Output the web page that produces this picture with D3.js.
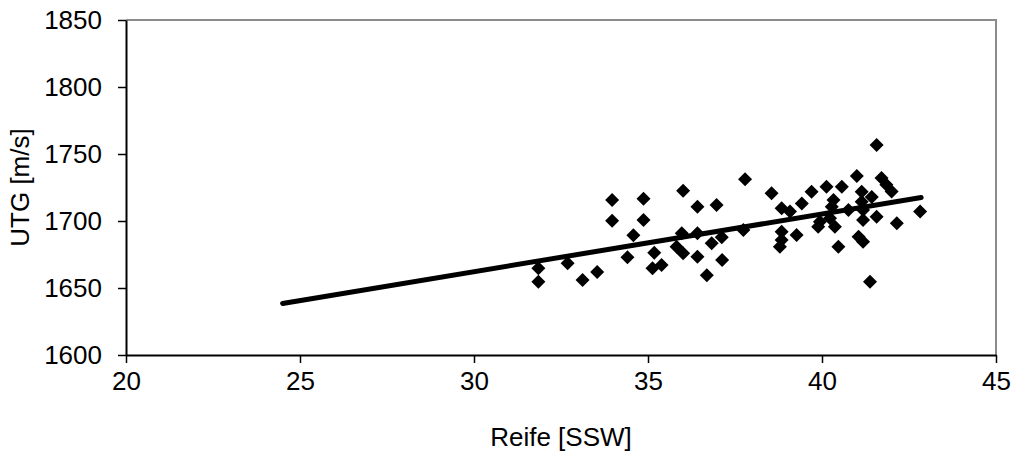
<!DOCTYPE html>
<html>
<head>
<meta charset="utf-8">
<script src="https://cdn.jsdelivr.net/npm/d3@7"></script>
<style>
	body { margin: 0; background: #fff; }
	text { font-family: "Liberation Sans", Arial, sans-serif; fill: #000; }
</style>
</head>
<body>
<svg id="chart" width="1012" height="452"></svg>
<script>
// scatter data: Reife [SSW] vs UTG [m/s]
var reife = [31.85, 31.85, 32.69, 33.12, 33.54, 33.97, 33.97, 34.41, 34.58, 34.87,
	34.87, 35.13, 35.18, 35.39, 35.82, 35.97, 36.01, 36.01, 36.42, 36.42,
	36.42, 36.69, 36.83, 36.97, 37.12, 37.13, 37.79, 37.74, 38.55, 38.79,
	38.84, 38.84, 38.84, 39.08, 39.27, 39.42, 39.70, 39.89, 39.94, 40.13,
	40.23, 40.28, 40.33, 40.37, 40.47, 40.57, 40.76, 41.00, 41.05, 41.14,
	41.14, 41.18, 41.18, 41.18, 41.38, 41.43, 41.57, 41.57, 41.71, 41.85,
	42.00, 42.15, 42.82];
var utg = [1664.7, 1654.7, 1668.4, 1656.0, 1662.0, 1715.7, 1700.2, 1672.9, 1689.3, 1716.6,
	1700.7, 1664.7, 1676.3, 1667.2, 1680.8, 1690.8, 1722.6, 1675.9, 1710.7, 1690.8,
	1673.4, 1659.5, 1683.4, 1711.9, 1687.8, 1670.9, 1731.1, 1693.3, 1720.7, 1680.8,
	1685.8, 1692.0, 1709.5, 1707.0, 1689.5, 1713.0, 1721.9, 1695.8, 1699.5, 1725.6,
	1702.0, 1710.7, 1715.7, 1695.8, 1680.8, 1725.6, 1708.2, 1733.6, 1688.3, 1721.9,
	1714.4, 1708.2, 1700.7, 1684.5, 1654.7, 1718.0, 1703.2, 1756.7, 1732.0, 1727.0,
	1722.0, 1698.3, 1707.0];

// linear trend line end points
var trendX = [24.5, 42.85];
var trendY = [1638.5, 1717.5];

var xTicks = [20, 25, 30, 35, 40, 45];
var yTicks = [1600, 1650, 1700, 1750, 1800, 1850];

var plotLeft = 126, plotRight = 996, plotTop = 20, plotBottom = 355;

var svg = d3.select("#chart");

var x = d3.scaleLinear().domain([20, 45]).range([plotLeft, plotRight]);
var y = d3.scaleLinear().domain([1600, 1850]).range([plotBottom, plotTop]);

// top and right frame (grey)
svg.append("path")
	.attr("d", "M" + plotLeft + "," + plotTop + "H" + plotRight + "V" + plotBottom)
	.attr("fill", "none")
	.attr("stroke", "#8c8c8c")
	.attr("stroke-width", 2);

var xAxis = svg.append("g")
	.attr("transform", "translate(0," + plotBottom + ")")
	.call(d3.axisBottom(x).tickValues(xTicks).tickFormat(d3.format("d"))
		.tickSize(8).tickSizeOuter(0).tickPadding(9));

var yAxis = svg.append("g")
	.attr("transform", "translate(" + plotLeft + ",0)")
	.call(d3.axisLeft(y).tickValues(yTicks).tickFormat(d3.format("d"))
		.tickSize(8).tickSizeOuter(0).tickPadding(16));

[xAxis, yAxis].forEach(function(a) {
	a.attr("font-size", null).attr("font-family", null);
	a.select(".domain").attr("stroke", "#000").attr("stroke-width", 2);
	a.selectAll(".tick line").attr("stroke", "#000").attr("stroke-width", 1.5);
	a.selectAll("text").style("font-size", "26px");
});

// points (diamonds)
var pts = reife.map(function(d, i) { return {x: d, y: utg[i]}; });
var r = 7;
svg.append("g").selectAll("path")
	.data(pts)
	.enter().append("path")
	.attr("d", function(d) {
		var cx = x(d.x), cy = y(d.y);
		return "M" + cx + "," + (cy - r) + "L" + (cx + r) + "," + cy + "L" + cx + "," + (cy + r) + "L" + (cx - r) + "," + cy + "Z";
	})
	.attr("fill", "#000");

// trend line
svg.append("line")
	.attr("x1", x(trendX[0])).attr("y1", y(trendY[0]))
	.attr("x2", x(trendX[1])).attr("y2", y(trendY[1]))
	.attr("stroke", "#000")
	.attr("stroke-width", 5)
	.attr("stroke-linecap", "round");

// axis titles
svg.append("text")
	.attr("x", (plotLeft + plotRight) / 2)
	.attr("y", 446)
	.attr("text-anchor", "middle")
	.style("font-size", "26px")
	.text("Reife [SSW]");

svg.append("text")
	.attr("transform", "translate(29," + ((plotTop + plotBottom) / 2) + ") rotate(-90)")
	.attr("text-anchor", "middle")
	.style("font-size", "26px")
	.text("UTG [m/s]");
</script>
</body>
</html>
